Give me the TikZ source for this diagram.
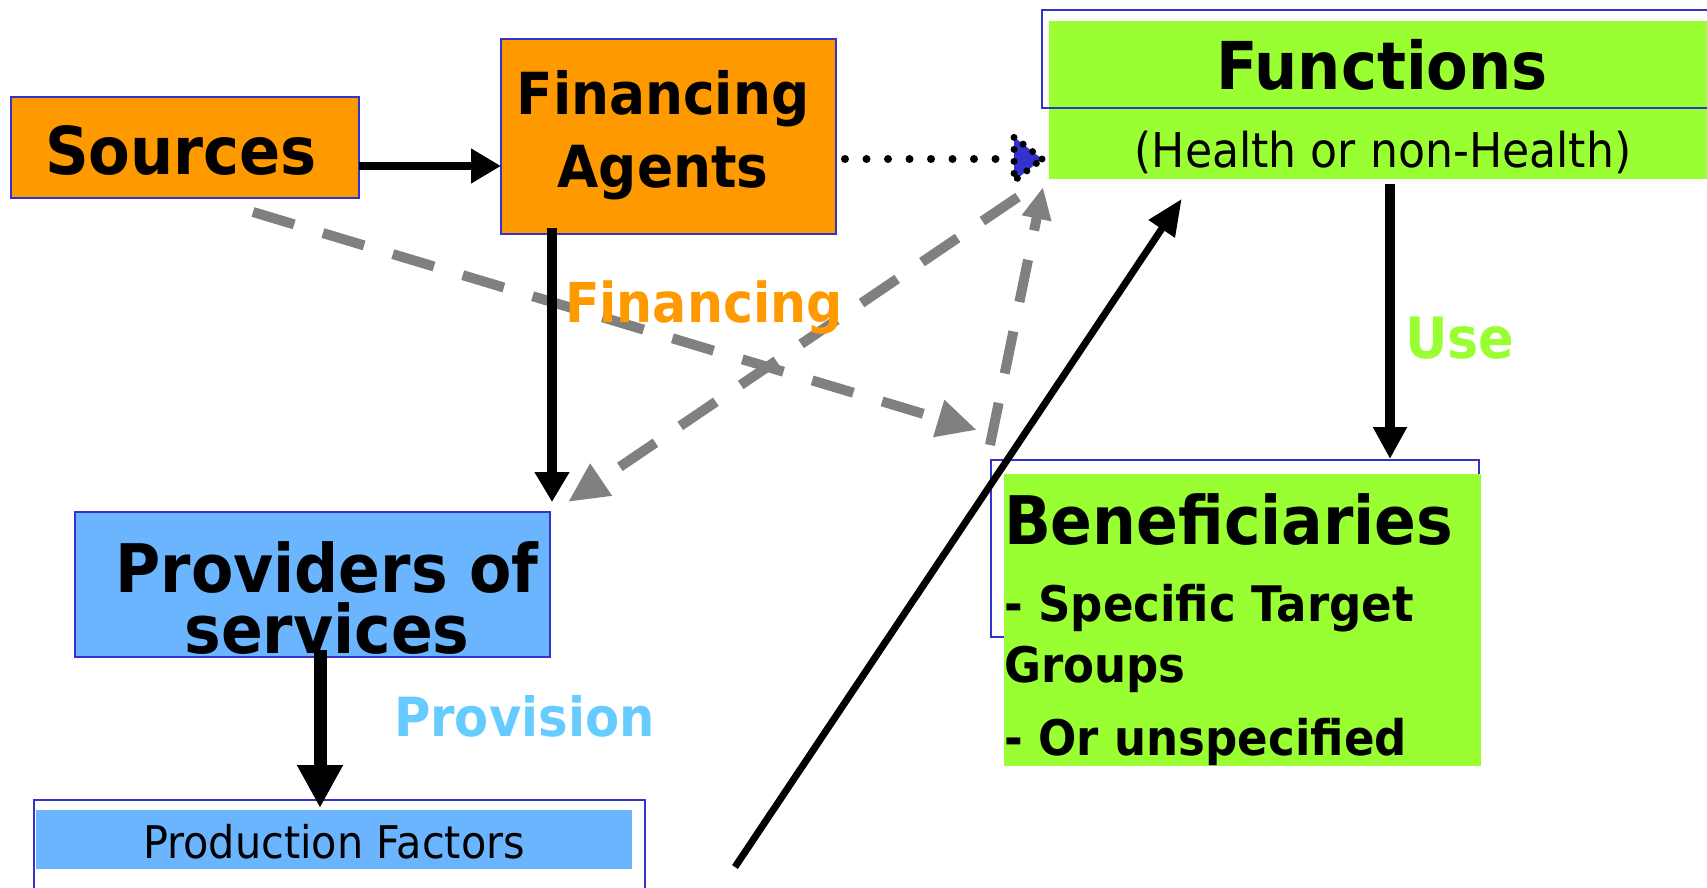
\documentclass[tikz,border=0pt]{standalone}
\usepackage{fontspec}
\setmainfont{DejaVu Sans}[FakeStretch=0.92]
\usetikzlibrary{arrows.meta}
\definecolor{orng}{HTML}{FF9900}
\definecolor{bframe}{HTML}{3333CC}
\definecolor{lblue}{HTML}{6BB5FF}
\definecolor{lgreen}{HTML}{99FF33}
\definecolor{provc}{HTML}{66CCFF}
\definecolor{dgrey}{HTML}{808080}
\definecolor{tipblue}{HTML}{3333CC}
\newcommand{\fs}[1]{\fontsize{#1pt}{#1pt}\selectfont}
\begin{document}
\begin{tikzpicture}[x=1pt,y=-1pt,
  frame/.style={draw=bframe,line width=2pt,inner sep=0pt,outer sep=0pt},
  plain/.style={inner sep=0pt,outer sep=0pt},
  txt/.style={inner sep=0pt,outer sep=0pt,anchor=base},
  ltxt/.style={inner sep=0pt,outer sep=0pt,anchor=base west},
  solidarrow/.style={draw=black,line cap=butt},
  greydash/.style={draw=dgrey,line width=10pt,dash pattern=on 43pt off 30pt,
    -{Triangle[length=40pt,width=36pt,fill=dgrey,color=dgrey]}},
]
\useasboundingbox (0,0) rectangle (1707,888);
\clip (0,0) rectangle (1707,888);

% ---------- boxes ----------
\node[frame,fill=orng,minimum width=348pt,minimum height=101pt] (src) at (185,147.5) {};
\node[frame,fill=orng,minimum width=335pt,minimum height=195pt] (fa) at (668.5,136.5) {};
\node[frame,fill=lblue,minimum width=475pt,minimum height=145pt] (prov) at (312.5,584.5) {};

\node[frame,fill=white,minimum width=611pt,minimum height=110pt] (prodframe) at (339.5,855) {};
\node[plain,fill=lblue,minimum width=596pt,minimum height=59pt] (prod) at (334,839.5) {};

\node[plain,fill=lgreen,minimum width=680pt,minimum height=158pt] (func) at (1389,100) {};
\node[frame,minimum width=690pt,minimum height=98pt] (funcframe) at (1387,59) {};

\node[frame,fill=white,minimum width=488pt,minimum height=177pt] (benframe) at (1235,548.5) {};
\node[plain,fill=lgreen,minimum width=477pt,minimum height=292pt] (ben) at (1242.5,620) {};

% ---------- texts ----------
\node[txt,font=\bfseries\fs{66}] (srcT) at (181,174) {Sources};
\node[txt,font=\bfseries\fs{58}] (faT1) at (663,114) {Financing};
\node[txt,font=\bfseries\fs{58}] (faT2) at (663,187) {Agents};
\node[txt,font=\bfseries\fs{67}] (provT1) at (327,592) {Providers of};
\node[txt,font=\bfseries\fs{67}] (provT2) at (327,653) {services};
\node[txt,font=\fs{45}] (prodT) at (334,858) {Production Factors};
\node[txt,font=\bfseries\fs{66}] (funcT1) at (1382,90) {Functions};
\node[txt,font=\fs{48}] (funcT2) at (1383,167) {(Health or non-Health)};
\node[ltxt,font=\bfseries\fs{67}] (benT1) at (1004,544) {Beneficiaries};
\node[ltxt,font=\bfseries\fs{49}] (benT2) at (1004,621) {- Specific Target};
\node[ltxt,font=\bfseries\fs{49}] (benT3) at (1004,682) {Groups};
\node[ltxt,font=\bfseries\fs{49}] (benT4) at (1004,755) {- Or unspecified};

% ---------- grey dashed connectors ----------
\coordinate (d1s) at ([xshift=68pt,yshift=-14pt]src.south);
\coordinate (d1e) at ([xshift=-14pt,yshift=30pt]benframe.north west);
\coordinate (d2s) at ([xshift=-1pt,yshift=15pt]benframe.north west);
\coordinate (d2e) at ([xshift=-6pt,yshift=-8pt]func.south west);
\coordinate (d3s) at ([xshift=-31pt,yshift=-18pt]func.south west);
\coordinate (d3e) at ([xshift=18pt,yshift=10pt]prov.north east);
\draw[greydash] (d1s) -- (d1e);
\draw[greydash,-{Triangle[length=32pt,width=28pt,fill=dgrey,color=dgrey]}] (d2s) -- (d2e);
\draw[greydash] (d3s) -- (d3e);

% ---------- labels ----------
\node[ltxt,font=\bfseries\fs{55},text=orng] (finL) at (565,322) {Financing};
\node[ltxt,font=\bfseries\fs{57},text=lgreen] (useL) at (1405,358) {Use};
\node[ltxt,font=\bfseries\fs{54},text=provc] (provL) at (394,736) {Provision};

% ---------- black connectors ----------
\draw[solidarrow,line width=8pt,-{Triangle[length=30pt,width=33pt]}]
  (src.east |- 0,166) -- (fa.west |- 0,166);
\draw[solidarrow,line width=10pt,-{Triangle[length=30pt,width=33pt]},shorten <=-6pt,shorten >=10pt]
  (fa.south -| 552,0) -- (prov.north -| 552,0);
\draw[solidarrow,line width=13pt,-{Triangle[length=43pt,width=43pt]},shorten <=-7pt,shorten >=-8pt]
  (prov.south -| 320,0) -- (prodframe.north -| 320,0);
\draw[solidarrow,line width=10pt,-{Triangle[length=32pt,width=32pt]},shorten <=5pt,shorten >=1pt]
  (func.south -| 1390,0) -- (benframe.north -| 1390,0);
\coordinate (longS) at ([xshift=701pt]prodframe.north west |- 0,867);
\draw[solidarrow,line width=7pt,-{Triangle[length=36pt,width=30pt]},shorten >=24pt]
  (longS) -- (func.south -| 1195,0);

% ---------- dotted connector ----------
\coordinate (dotTip) at (funcframe.west |- 0,159);
\draw[line width=8pt,line cap=round,dash pattern=on 0pt off 21.5pt]
  (fa.east |- 0,159) ++(9,0) -- ([xshift=-28pt]dotTip);
\fill[tipblue] (dotTip) -- ([xshift=-28pt,yshift=22pt]dotTip) -- ([xshift=-28pt,yshift=-22pt]dotTip) -- cycle;
\draw[line width=7pt,line cap=round,dash pattern=on 0pt off 12pt]
  (dotTip) -- ([xshift=-28pt,yshift=22pt]dotTip) -- ([xshift=-28pt,yshift=-22pt]dotTip) -- cycle;
\end{tikzpicture}
\end{document}
